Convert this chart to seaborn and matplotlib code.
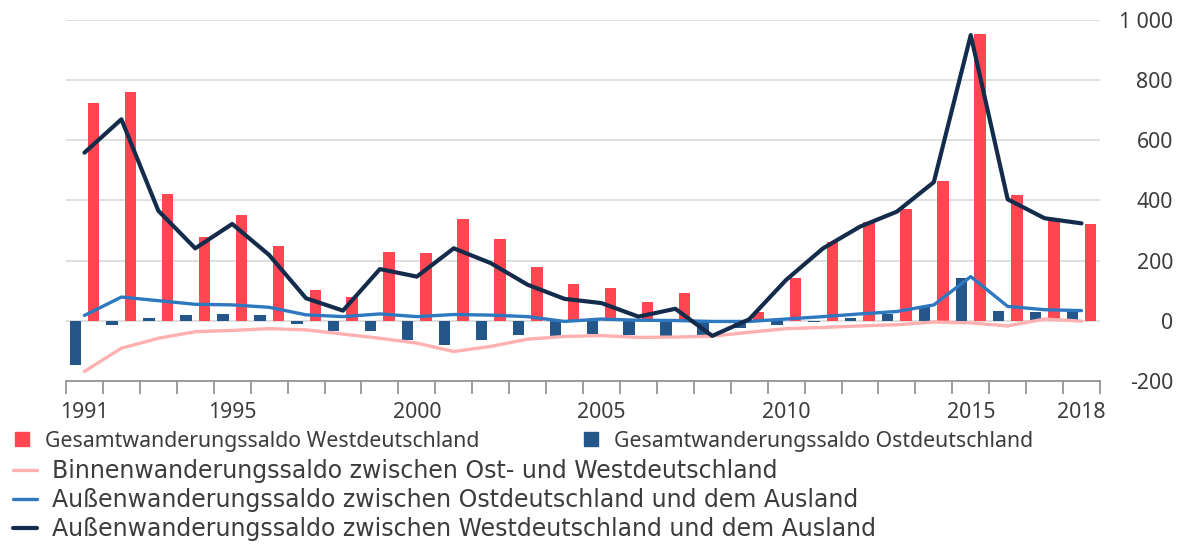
import numpy as np
import pandas as pd
import matplotlib
matplotlib.use("Agg")
import matplotlib.pyplot as plt
from matplotlib.lines import Line2D
import seaborn as sns

# ---------------- data (thousands of persons) ----------------
years = list(range(1991, 2019))
west_total = [725, 760, 421, 278, 353, 248, 103, 80, 230, 225, 339, 272, 180, 124,
              109, 64, 92, 2, 28, 144, 261, 327, 371, 464, 952, 419, 336, 323]
east_total = [-147, -13, 11, 20, 22, 18, -11, -33, -35, -65, -79, -65, -47, -49,
              -44, -48, -50, -47, -24, -13, -5, 9, 23, 45, 142, 33, 30, 30]
binnen = [-168, -91, -58, -36, -32, -26, -30, -44, -58, -74, -102, -85, -61, -52,
          -49, -55, -54, -51, -38, -26, -22, -17, -13, -4, -7, -17, 6, -1]
aussen_ost = [18, 79, 67, 55, 53, 45, 20, 14, 23, 14, 21, 19, 14, -2,
              6, 2, 1, -2, -2, 6, 14, 23, 31, 53, 147, 48, 37, 34]
aussen_west = [559, 670, 366, 241, 322, 219, 75, 34, 172, 147, 241, 192, 120, 73,
               59, 14, 40, -50, 5, 136, 241, 313, 363, 461, 950, 404, 341, 324]

xtick_years = [1991, 1995, 2000, 2005, 2010, 2015, 2018]
ytick_values = [-200, 0, 200, 400, 600, 800, 1000]
ytick_labels = ["-200", "0", "200", "400", "600", "800", "1 000"]

lab_west = "Gesamtwanderungssaldo Westdeutschland"
lab_east = "Gesamtwanderungssaldo Ostdeutschland"
lab_binnen = "Binnenwanderungssaldo zwischen Ost- und Westdeutschland"
lab_aost = "Außenwanderungssaldo zwischen Ostdeutschland und dem Ausland"
lab_awest = "Außenwanderungssaldo zwischen Westdeutschland und dem Ausland"

C_WEST = "#FF4651"
C_EAST = "#24568A"
C_PINK = "#FFB0B0"
C_BLUE = "#2E78C0"
C_NAVY = "#142C4C"
TEXT = "#3c3c3c"
GRID = "#d9d9d9"
AXC = "#8c8c8c"

sns.set_theme(style="white")
plt.rcParams["font.family"] = ["Noto Sans", "DejaVu Sans"]

W, H = 1183, 545
fig = plt.figure(figsize=(W / 100, H / 100), dpi=100)
ax = fig.add_axes([66 / W, 1 - 381 / H, (1100 - 66) / W, (381 - 20) / H])

bars = pd.DataFrame({
    "Jahr": years * 2,
    "Wert": east_total + west_total,
    "Reihe": [lab_east] * len(years) + [lab_west] * len(years),
})
sns.barplot(data=bars, x="Jahr", y="Wert", hue="Reihe",
            hue_order=[lab_east, lab_west], palette=[C_EAST, C_WEST],
            native_scale=True, width=1.0, gap=0.38, errorbar=None,
            saturation=1, linewidth=0, legend=False, ax=ax, zorder=2)

sns.lineplot(x=years, y=binnen, color=C_PINK, lw=2.4, ax=ax, zorder=3)
sns.lineplot(x=years, y=aussen_ost, color=C_BLUE, lw=2.4, ax=ax, zorder=4)
sns.lineplot(x=years, y=aussen_west, color=C_NAVY, lw=3.0, ax=ax, zorder=5)

ax.set_xlim(years[0] - 0.5, years[-1] + 0.5)
ax.set_ylim(ytick_values[0], ytick_values[-1])
ax.set_xlabel("")
ax.set_ylabel("")

ax.set_xticks(xtick_years)
ax.set_xticklabels([str(y) for y in xtick_years])
ax.set_xticks(np.arange(years[0] - 0.5, years[-1] + 1.0, 1.0), minor=True)
ax.tick_params(axis="x", which="both", bottom=True)
ax.tick_params(axis="x", which="major", length=0, pad=15, labelsize=15.3, labelcolor=TEXT)
ax.tick_params(axis="x", which="minor", length=9, width=1.2, color=AXC, direction="out")

ax.yaxis.tick_right()
ax.set_yticks(ytick_values)
ax.set_yticklabels(ytick_labels)
ax.tick_params(axis="y", length=0, pad=52.5, labelsize=15.3, labelcolor=TEXT)
for t in ax.get_yticklabels():
    t.set_ha("right")

ax.grid(axis="y", color=GRID, lw=1.2)
ax.grid(axis="x", visible=False)
ax.set_axisbelow(True)
for s in ["top", "left", "right"]:
    ax.spines[s].set_visible(False)
ax.spines["bottom"].set_color(AXC)
ax.spines["bottom"].set_linewidth(1.2)


def add_leg(handle, label, x, y, size, hl, htp, family):
    lg = fig.legend(handles=[handle], labels=[label], loc="center left",
                    bbox_to_anchor=(x / W, 1 - y / H), bbox_transform=fig.transFigure,
                    frameon=False, borderpad=0, borderaxespad=0,
                    handlelength=hl, handletextpad=htp,
                    prop={"size": size, "family": family},
                    labelcolor=TEXT)
    return lg


fam1 = ["Noto Sans", "DejaVu Sans"]
fam2 = ["DejaVu Sans"]
add_leg(Line2D([], [], ls="", marker="s", markersize=9.4, color=C_WEST),
        lab_west, 11, 441, 15.3, 1.04, 0.57, fam1)
add_leg(Line2D([], [], ls="", marker="s", markersize=9.4, color=C_EAST),
        lab_east, 580, 441, 15.3, 1.04, 0.57, fam1)
add_leg(Line2D([], [], color=C_PINK, lw=2.4), lab_binnen, 13, 471, 17.0, 1.02, 0.63, fam2)
add_leg(Line2D([], [], color=C_BLUE, lw=2.4), lab_aost, 13, 500, 17.0, 1.02, 0.63, fam2)
add_leg(Line2D([], [], color=C_NAVY, lw=3.0), lab_awest, 13, 529, 17.0, 1.02, 0.63, fam2)

fig.savefig("out.png", dpi=100)
